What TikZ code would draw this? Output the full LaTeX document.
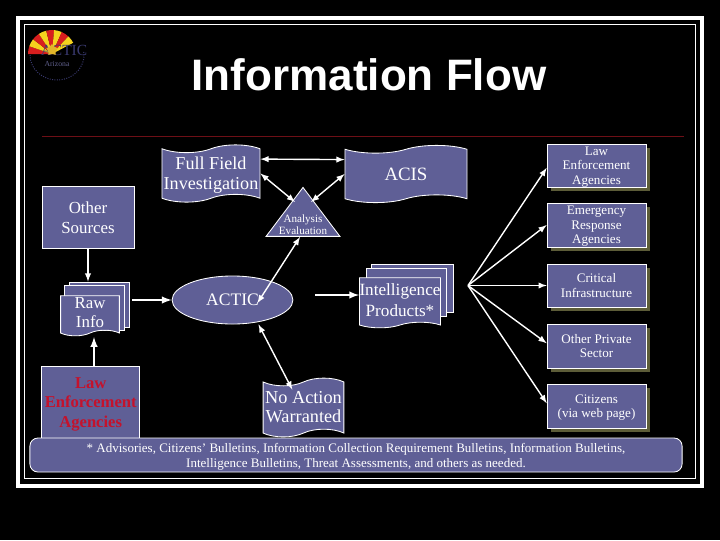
\documentclass[tikz,border=0pt]{standalone}
\usepackage{xcolor}
\usepackage{fontspec}
\setmainfont{Liberation Serif}
\newfontfamily\titlefont{Liberation Sans}
\usetikzlibrary{arrows,shapes,shapes.geometric,shapes.symbols,positioning,shadows}

\definecolor{boxfill}{HTML}{5F5F96}
\definecolor{shadowolive}{HTML}{5C5C38}
\definecolor{rulered}{HTML}{6E0F16}
\definecolor{lawred}{HTML}{C4122C}
\definecolor{logoblue}{HTML}{3A3A70}
\definecolor{rayyellow}{HTML}{F5D21E}
\definecolor{rayred}{HTML}{D81E1E}

\tikzset{
    flowbox/.style={draw=white, fill=boxfill, text=white, line width=0.6pt, inner sep=0pt, align=center},
    plainbox/.style={flowbox, rectangle},
    destbox/.style={plainbox, minimum width=2.47cm, text depth=0pt, font=\fontsize{9.3}{10.4}\selectfont,
        drop shadow={shadow xshift=0.1cm, shadow yshift=-0.1cm, opacity=1, fill=shadowolive}},
    wavebox/.style={flowbox, tape, tape bend top=in and out, tape bend bottom=in and out, tape bend height=5.5pt},
    pagebox/.style={flowbox, tape, tape bend top=none, tape bend bottom=in and out, tape bend height=4pt},
    flow/.style={draw=white, line width=1pt, >=latex},
    flowheavy/.style={flow, line width=1.4pt}
}

\begin{document}
\begin{tikzpicture}[x=0.025cm, y=-0.025cm]
        \useasboundingbox (0,0) rectangle (720,540);
        \fill[black] (0,0) rectangle (720,540);

        % frame
        \draw[white, line width=2.8pt] (18,18) rectangle (702,486);
        \draw[white, line width=0.7pt] (24,24) rectangle (695,478);
        \draw[rulered, line width=0.7pt] (42,136) -- (684,136);

        % logo
        \foreach \a/\c in {180/rayred, 161/rayyellow, 142/rayred, 123/rayyellow, 104/rayred, 85/rayyellow, 66/rayred, 47/rayyellow}
            \fill[\c] (52,54) -- ++(-\a:24) arc[start angle=-\a, end angle=-\a+19, radius=24] -- cycle;
        \draw[logoblue, densely dotted, line width=0.7pt] (30,55) arc[start angle=180, end angle=-10, x radius=27, y radius=25];
        \node[text=logoblue, font=\fontsize{11}{11}\selectfont] (logoname) at (64,50) {ACTIC};
        \node[text=logoblue!80!white, font=\fontsize{5.5}{6}\selectfont] (logostate) at (57,64) {Arizona};
        \node[star, star points=5, fill=rayyellow!65!brown, inner sep=0pt, minimum size=0.3cm] (logostar) at (52,50) {};

        \node[text=white, font=\titlefont\bfseries\fontsize{31.3}{32}\selectfont] (title) at (369,75) {Information Flow};

        % sources
        \node[wavebox, minimum width=2.45cm, minimum height=1.43cm, text depth=0pt, font=\fontsize{12.9}{14.2}\selectfont] (ffield) at (211,173.5) {Full Field\\Investigation};
        \node[wavebox, minimum width=3.05cm, minimum height=1.43cm, font=\fontsize{13.4}{14}\selectfont] (acis) at (406,174) {ACIS};
        \node[plainbox, minimum width=2.3cm, minimum height=1.57cm, font=\fontsize{12}{14.3}\selectfont] (other) at (88,217.5) {Other\\Sources};
        \node[plainbox, minimum width=2.44cm, minimum height=1.78cm, text=lawred, text depth=0pt, font=\bfseries\fontsize{11.8}{13.7}\selectfont] (lawagency) at (90.7,402.5) {Law\\Enforcement\\Agencies};

        \node[plainbox, minimum width=1.5cm, minimum height=1.125cm] (raw3) at (99,304.5) {};
        \node[plainbox, minimum width=1.5cm, minimum height=1.125cm] (raw2) at (94,308) {};
        \node[pagebox, minimum width=1.47cm, minimum height=1cm, font=\fontsize{12}{13.5}\selectfont] (raw1) at (90,313) {Raw\\Info};

        % analysis
        \node[flowbox, isosceles triangle, shape border rotate=90, isosceles triangle apex angle=74, minimum height=1.225cm] (analysis) at (303,218) {};
        \node[text=white, align=center, inner sep=0pt, font=\fontsize{7.9}{8.6}\selectfont] (analysistext) at (303,224.5) {Analysis\\Evaluation};
        \node[flowbox, ellipse, minimum width=3.02cm, minimum height=1.2cm, font=\fontsize{12.5}{14}\selectfont] (actic) at (232.5,300) {ACTIC};
        \node[wavebox, minimum width=2.02cm, minimum height=1.47cm, font=\fontsize{13}{13.6}\selectfont] (noaction) at (303.5,407.5) {No Action\\Warranted};

        \node[plainbox, minimum width=2.03cm, minimum height=1.2cm] (intel3) at (412.5,288) {};
        \node[plainbox, minimum width=2.0cm, minimum height=1.2cm] (intel2) at (406,292) {};
        \node[pagebox, minimum width=2.0cm, minimum height=1.25cm, font=\fontsize{12.2}{14.4}\selectfont] (intel1) at (400,300) {Intelligence\\Products*};

        % consumers
        \node[destbox, minimum height=1.075cm] (dest1) at (596.5,165.5) {Law\\Enforcement\\Agencies};
        \node[destbox, minimum height=1.1cm] (dest2) at (596.5,225) {Emergency\\Response\\Agencies};
        \node[destbox, minimum height=1.075cm] (dest3) at (596.5,285.5) {Critical\\Infrastructure};
        \node[destbox, minimum height=1.1cm] (dest4) at (596.5,346) {Other Private\\Sector};
        \node[destbox, minimum height=1.1cm] (dest5) at (596.5,406) {Citizens\\(via web page)};

        \node[plainbox, rounded corners=0.2cm, minimum width=16.3cm, minimum height=0.85cm, text depth=0pt, font=\fontsize{9.25}{10.7}\selectfont] (notes) at (356,455) {* Advisories, Citizens' Bulletins, Information Collection Requirement Bulletins, Information Bulletins,\\Intelligence Bulletins, Threat Assessments, and others as needed.};

        \coordinate (trileft) at (295,202);
        \coordinate (triright) at (311,202);
        \coordinate (tribase) at (300,237);
        \coordinate (rawbelow) at (94,337);
        \coordinate (rawout) at (132,300);
        \coordinate (acticout) at (315,295);
        \coordinate (fan) at (468,285.5);

        \draw[flow, <->] ([yshift=0.36cm]ffield.east) -- ([yshift=0.36cm]acis.west);
        \draw[flow, <->] (ffield.east) -- (trileft);
        \draw[flow, <->] (acis.west) -- (triright);
        \draw[flow, <->] (tribase) -- ([xshift=0.62cm,yshift=-0.08cm]actic.center);
        \draw[flow, <->] ([xshift=0.65cm]actic.south) -- ([xshift=-0.28cm,yshift=-0.2cm]noaction.north);

        \draw[flow, ->] (other.south) -- (other.south |- raw3.north);
        \draw[flowheavy, ->] (rawbelow |- lawagency.north) -- (rawbelow);
        \draw[flowheavy, ->] (rawout) -- (actic.west);
        \draw[flowheavy, ->] (acticout) -- (intel1.west |- acticout);

        \foreach \n/\s in {1/-0.06, 2/0, 3/0, 4/0.07, 5/0.07}
            \draw[flow, ->] (fan) -- ([yshift=\s cm]dest\n.west);
\end{tikzpicture}
\end{document}
